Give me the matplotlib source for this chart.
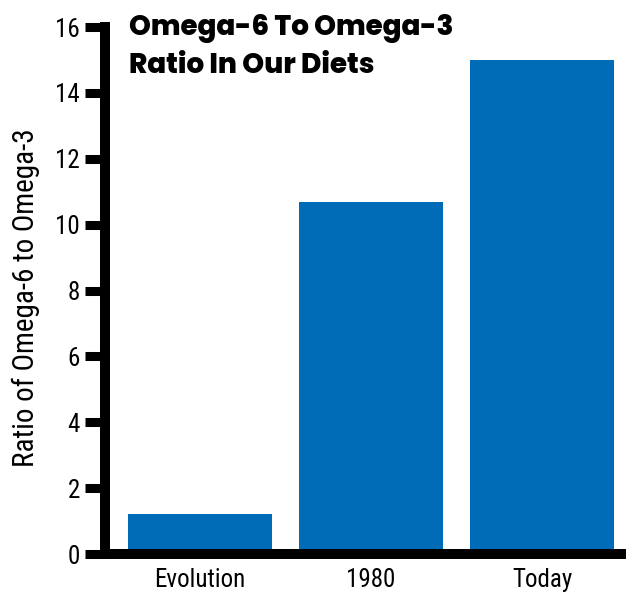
import matplotlib

matplotlib.use("Agg")
import matplotlib.pyplot as plt

# Omega-6 : omega-3 ratio per period
periods = ["Evolution", "1980", "Today"]
ratios = [1.2, 10.7, 15.0]
y_ticks = [0, 2, 4, 6, 8, 10, 12, 14, 16]

BAR_COLOR = "#006cb7"
LINE_W = 7.2  # thick black axis lines, in points

plt.rcParams["font.family"] = ["Roboto Condensed", "DejaVu Sans"]

fig = plt.figure(figsize=(6.26, 5.97), dpi=100)
ax = fig.add_axes([0.1677, 0.072, 0.8323, 0.8827])

x = range(len(periods))
ax.bar(x, ratios, width=0.84, color=BAR_COLOR, zorder=1)

ax.set_xlim(-0.556, 2.49)
ax.set_ylim(0, 16)
ax.set_yticks(y_ticks)
ax.set_xticks(list(x))
ax.set_xticklabels(periods)

for side in ("top", "right"):
    ax.spines[side].set_visible(False)
for side in ("left", "bottom"):
    ax.spines[side].set_linewidth(LINE_W)
    ax.spines[side].set_capstyle("projecting")
    ax.spines[side].set_zorder(3)

ax.tick_params(axis="y", length=14.4, width=6.5, pad=3.5, labelsize=18, color="black")
ax.tick_params(axis="x", length=0, pad=10, labelsize=18)
ax.set_ylabel("Ratio of Omega-6 to Omega-3", fontsize=21)
ax.yaxis.set_label_coords(-0.125, 0.486)

fig.text(129 / 626, 1 - 14 / 597, "Omega-6 To Omega-3\nRatio In Our Diets",
         family=["Poppins", "DejaVu Sans"], fontweight=800, fontsize=20,
         linespacing=1.45, ha="left", va="top", color="black")

fig.savefig("out.png", dpi=100)
